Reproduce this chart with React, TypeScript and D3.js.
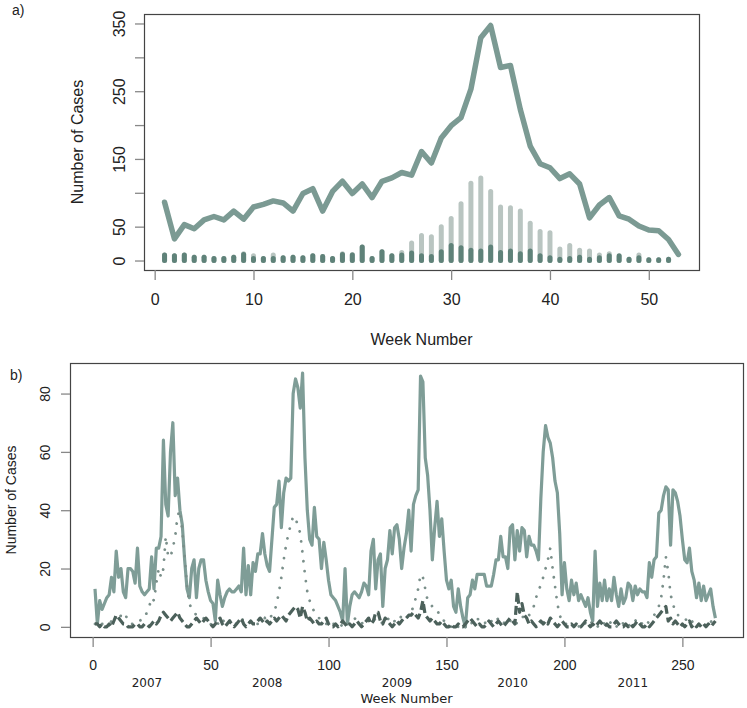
import { axisLeft, axisBottom, scaleLinear, select, line as d3Line, range } from 'd3';
import { useEffect, useRef } from 'react';

// ---- panel a: one season, weeks 1..53 ----
const weeksA = range(1, 54);
const totalA = [
  86, 32, 53, 47, 60, 65, 60, 73, 61, 79, 83, 88, 85, 73, 99, 106, 73, 102, 117, 99,
  113, 93, 117, 122, 130, 126, 161, 144, 181, 199, 211, 253, 329, 347, 285, 288, 223, 169, 143, 137,
  121, 128, 113, 63, 82, 93, 66, 61, 51, 45, 44, 31, 9,
];
const barWeeksA = range(1, 53);
const lightBarsA = [
  8, 7, 8, 5, 5, 3, 3, 5, 10, 7, 3, 8, 4, 5, 4, 7, 6, 3, 10, 9,
  20, 3, 13, 7, 12, 26, 37, 35, 50, 62, 84, 114, 122, 102, 79, 78, 73, 55, 43, 41,
  17, 22, 15, 14, 8, 10, 6, 2, 8, 1, 1, 2,
];
const darkBarsA = [
  8, 7, 8, 5, 5, 3, 3, 5, 9, 3, 3, 3, 4, 5, 4, 7, 6, 3, 9, 8,
  20, 3, 13, 7, 8, 11, 7, 6, 13, 22, 19, 15, 14, 20, 12, 14, 10, 14, 7, 4,
  2, 3, 5, 2, 4, 7, 7, 2, 4, 1, 1, 2,
];
const xTicksA = [0, 10, 20, 30, 40, 50];
const yTicksA = [0, 50, 100, 150, 200, 250, 300, 350];
const yLabelledA = [0, 50, 150, 250, 350];

// ---- panel b: 2007-2011, weeks 1..264 ----
const weeksB = range(1, 265);
const solidB = [
  13, 1, 9, 6, 8, 10, 11, 17, 12, 26, 17, 20, 12, 10, 20, 20, 19, 15, 27, 14,
  12, 11, 12, 13, 24, 13, 27, 27, 31, 64, 42, 38, 60, 70, 45, 51, 40, 35, 23, 13,
  10, 20, 23, 10, 20, 23, 23, 16, 12, 9, 8, 2, 16, 11, 7, 10, 12, 13, 12, 12,
  13, 14, 12, 27, 11, 21, 11, 22, 19, 25, 25, 32, 25, 21, 19, 30, 41, 42, 50, 34,
  46, 51, 50, 51, 80, 85, 82, 75, 87, 58, 40, 30, 28, 41, 31, 30, 20, 29, 23, 16,
  11, 10, 9, 7, 5, 2, 20, 1, 7, 11, 12, 11, 10, 12, 15, 14, 11, 26, 30, 13,
  23, 25, 7, 20, 23, 33, 25, 34, 35, 30, 20, 27, 32, 40, 26, 42, 45, 47, 86, 84,
  58, 52, 40, 23, 34, 43, 31, 37, 26, 16, 13, 16, 7, 5, 13, 7, 3, 0, 10, 11,
  16, 13, 18, 18, 18, 18, 14, 14, 14, 18, 23, 23, 31, 24, 24, 20, 34, 35, 23, 33,
  26, 34, 33, 24, 31, 28, 28, 26, 23, 44, 60, 69, 65, 63, 58, 50, 46, 32, 11, 22,
  13, 9, 16, 11, 15, 9, 11, 9, 7, 10, 5, 2, 26, 7, 15, 9, 16, 9, 13, 9,
  17, 11, 7, 13, 8, 10, 15, 14, 9, 14, 11, 13, 12, 12, 10, 22, 17, 23, 24, 39,
  40, 45, 48, 47, 28, 47, 46, 43, 38, 30, 23, 22, 27, 19, 16, 10, 15, 9, 14, 9,
  11, 13, 7, 3,
];
const dottedB = [
  1, 1, 0, 1, 1, 1, 1, 2, 4, 3, 2, 4, 5, 4, 2, 1, 1, 1, 2, 2,
  3, 3, 5, 7, 10, 9, 15, 20, 17, 20, 31, 24, 24, 27, 31, 38, 40, 33, 24, 14,
  8, 6, 5, 4, 3, 3, 3, 2, 1, 1, 0, 0, 1, 2, 3, 1, 1, 2, 3, 2,
  1, 2, 3, 2, 1, 1, 2, 2, 1, 1, 2, 2, 3, 2, 3, 4, 5, 8, 12, 17,
  23, 28, 32, 35, 38, 37, 35, 32, 25, 18, 12, 9, 7, 5, 4, 3, 2, 2, 1, 2,
  2, 1, 1, 0, 0, 1, 2, 1, 1, 2, 3, 2, 1, 1, 2, 3, 2, 1, 2, 3,
  3, 2, 1, 2, 3, 2, 1, 2, 3, 4, 3, 2, 3, 4, 5, 7, 10, 13, 18, 17,
  13, 9, 8, 7, 7, 6, 4, 3, 2, 1, 1, 0, 1, 0, 0, 1, 0, 0, 1, 2,
  1, 2, 3, 2, 1, 1, 2, 3, 2, 1, 2, 3, 2, 1, 2, 3, 2, 3, 2, 1,
  2, 3, 4, 3, 4, 5, 7, 10, 13, 14, 17, 20, 23, 27, 20, 14, 8, 4, 2, 1,
  1, 2, 1, 0, 1, 0, 1, 2, 1, 0, 1, 2, 1, 0, 1, 2, 1, 0, 1, 2,
  1, 0, 1, 2, 1, 2, 1, 0, 1, 2, 3, 2, 1, 2, 1, 2, 3, 4, 5, 7,
  10, 16, 24, 19, 11, 8, 5, 4, 4, 4, 3, 2, 1, 2, 1, 0, 1, 2, 1, 0,
  1, 2, 1, 1,
];
const dashedB = [
  1, 1, 0, 1, 0, 0, 1, 0, 2, 4, 3, 2, 1, 1, 0, 0, 0, 1, 1, 0,
  0, 1, 1, 0, 1, 2, 1, 2, 4, 5, 4, 3, 2, 3, 4, 5, 3, 2, 1, 0,
  0, 1, 2, 3, 2, 1, 2, 3, 2, 1, 0, 1, 2, 3, 1, 0, 1, 2, 1, 0,
  1, 2, 3, 1, 0, 1, 2, 1, 1, 2, 3, 2, 1, 2, 1, 2, 3, 2, 3, 4,
  3, 2, 4, 5, 6, 7, 6, 3, 7, 5, 2, 3, 2, 1, 2, 1, 1, 2, 3, 1,
  0, 0, 1, 0, 1, 2, 1, 0, 1, 0, 1, 2, 1, 0, 1, 2, 3, 1, 2, 5,
  5, 2, 1, 3, 2, 1, 0, 1, 2, 1, 2, 3, 3, 4, 4, 5, 4, 3, 5, 9,
  4, 3, 2, 3, 2, 1, 1, 2, 1, 0, 0, 1, 0, 0, 1, 0, 0, 1, 2, 3,
  2, 1, 0, 1, 0, 0, 1, 2, 1, 0, 1, 2, 1, 0, 1, 2, 3, 2, 1, 12,
  5, 8, 4, 3, 1, 2, 1, 0, 1, 2, 1, 2, 1, 3, 2, 1, 0, 1, 2, 1,
  0, 0, 1, 0, 1, 0, 0, 1, 2, 1, 0, 1, 0, 1, 2, 1, 0, 1, 0, 0,
  1, 2, 1, 0, 0, 1, 0, 1, 0, 1, 2, 1, 0, 0, 1, 0, 1, 2, 3, 4,
  5, 6, 7, 2, 3, 1, 2, 1, 0, 1, 0, 1, 2, 0, 1, 0, 1, 0, 1, 0,
  1, 0, 1, 2,
];
const xTicksB = [0, 50, 100, 150, 200, 250];
const yTicksB = [0, 20, 40, 60, 80];
const yearLabels = ['2007', '2008', '2009', '2010', '2011'];
const yearCentreWeeks = [23, 74, 129, 178, 229];

const SANS = '"Liberation Sans", Arial, sans-serif';
const VERDANA = '"DejaVu Sans", Verdana, sans-serif';

const App = () => {
  const svgElem = useRef<SVGSVGElement>(null);

  useEffect(() => {
    if (!svgElem.current) {
      return;
    }
    const svg = select(svgElem.current);
    svg.selectAll('*').remove();

    // ================= panel a =================
    const A = { left: 144, right: 699, top: 14, bottom: 270 };
    const xA = scaleLinear().domain([-1.08, 55.08]).range([A.left, A.right]);
    const yA = scaleLinear().domain([-14, 364]).range([A.bottom, A.top]);

    const gA = svg.append('g');

    // light bars first, dark ones on top
    gA.selectAll('.bar-light')
      .data(barWeeksA)
      .enter()
      .append('line')
      .attr('x1', (w) => xA(w))
      .attr('x2', (w) => xA(w))
      .attr('y1', yA(0))
      .attr('y2', (_, i) => yA(lightBarsA[i]))
      .attr('stroke', '#b9c5c1')
      .attr('stroke-width', 5)
      .attr('stroke-linecap', 'round');
    gA.selectAll('.bar-dark')
      .data(barWeeksA)
      .enter()
      .append('line')
      .attr('x1', (w) => xA(w))
      .attr('x2', (w) => xA(w))
      .attr('y1', yA(0))
      .attr('y2', (_, i) => yA(darkBarsA[i]))
      .attr('stroke', '#5f8279')
      .attr('stroke-width', 5)
      .attr('stroke-linecap', 'round');

    const lineA = d3Line<number>()
      .x((w) => xA(w))
      .y((_, i) => yA(totalA[i]));
    gA.append('path')
      .attr('d', lineA(weeksA))
      .attr('fill', 'none')
      .attr('stroke', '#7b9a93')
      .attr('stroke-width', 5.5)
      .attr('stroke-linejoin', 'round')
      .attr('stroke-linecap', 'round');

    gA.append('rect')
      .attr('x', A.left + 0.5)
      .attr('y', A.top + 0.5)
      .attr('width', A.right - A.left)
      .attr('height', A.bottom - A.top)
      .attr('fill', 'none')
      .attr('stroke', '#444')
      .attr('stroke-width', 1.2);

    const xAxisA = gA.append('g')
      .attr('transform', `translate(0, ${A.bottom})`)
      // @ts-expect-error: d3 typings
      .call(axisBottom(xA).tickValues(xTicksA).tickSize(10).tickSizeOuter(0));
    xAxisA.select('.domain').remove();
    xAxisA.selectAll('line').attr('stroke', '#888').attr('stroke-width', 1.3);
    xAxisA.selectAll('text')
      .attr('y', 35)
      .attr('dy', null)
      .style('font', `16px ${SANS}`)
      .attr('fill', '#222');

    const yAxisA = gA.append('g')
      .attr('transform', `translate(${A.left}, 0)`)
      // @ts-expect-error: d3 typings
      .call(axisLeft(yA).tickValues(yTicksA).tickSize(9).tickSizeOuter(0)
        .tickFormat((d: number) => (yLabelledA.includes(d) ? String(d) : '')));
    yAxisA.select('.domain').remove();
    yAxisA.selectAll('line').attr('stroke', '#888').attr('stroke-width', 1.3);
    yAxisA.selectAll('text')
      .attr('x', null)
      .attr('dy', null)
      .attr('text-anchor', 'middle')
      .attr('transform', 'translate(-19, 0) rotate(-90)')
      .style('font', `16px ${SANS}`)
      .attr('fill', '#222');

    gA.append('text')
      .attr('x', (A.left + A.right) / 2)
      .attr('y', 345)
      .attr('text-anchor', 'middle')
      .style('font', `16px ${SANS}`)
      .attr('fill', '#222')
      .text('Week Number');
    gA.append('text')
      .attr('transform', `translate(83, ${(A.top + A.bottom) / 2}) rotate(-90)`)
      .attr('text-anchor', 'middle')
      .style('font', `16px ${SANS}`)
      .attr('fill', '#222')
      .text('Number of Cases');
    gA.append('text')
      .attr('x', 12)
      .attr('y', 15)
      .style('font', `14px ${SANS}`)
      .attr('fill', '#222')
      .text('a)');

    // ================= panel b =================
    const B = { left: 70, right: 743, top: 363, bottom: 637 };
    const xB = scaleLinear().domain([-9.6, 275.7]).range([B.left, B.right]);
    const yB = scaleLinear().domain([-3.48, 90.48]).range([B.bottom, B.top]);

    const gB = svg.append('g');
    const lineB = (vals: number[]) =>
      d3Line<number>()
        .x((w) => xB(w))
        .y((_, i) => yB(vals[i]))(weeksB);

    gB.append('path')
      .attr('d', lineB(solidB))
      .attr('fill', 'none')
      .attr('stroke', '#7f9d97')
      .attr('stroke-width', 3.2)
      .attr('stroke-linejoin', 'round');
    gB.append('path')
      .attr('d', lineB(dottedB))
      .attr('fill', 'none')
      .attr('stroke', '#7a8f8a')
      .attr('stroke-width', 2.8)
      .attr('stroke-linecap', 'round')
      .attr('stroke-dasharray', '0.01 10');
    gB.append('path')
      .attr('d', lineB(dashedB))
      .attr('fill', 'none')
      .attr('stroke', '#4c615b')
      .attr('stroke-width', 3.2)
      .attr('stroke-linejoin', 'round')
      .attr('stroke-dasharray', '9 4');

    gB.append('rect')
      .attr('x', B.left + 0.5)
      .attr('y', B.top + 0.5)
      .attr('width', B.right - B.left)
      .attr('height', B.bottom - B.top)
      .attr('fill', 'none')
      .attr('stroke', '#444')
      .attr('stroke-width', 1.2);

    const xAxisB = gB.append('g')
      .attr('transform', `translate(0, ${B.bottom})`)
      // @ts-expect-error: d3 typings
      .call(axisBottom(xB).tickValues(xTicksB).tickSize(10).tickSizeOuter(0));
    xAxisB.select('.domain').remove();
    xAxisB.selectAll('line').attr('stroke', '#888').attr('stroke-width', 1.3);
    xAxisB.selectAll('text')
      .attr('y', 33)
      .attr('dy', null)
      .style('font', `14px ${SANS}`)
      .attr('fill', '#222');

    const yAxisB = gB.append('g')
      .attr('transform', `translate(${B.left}, 0)`)
      // @ts-expect-error: d3 typings
      .call(axisLeft(yB).tickValues(yTicksB).tickSize(9).tickSizeOuter(0));
    yAxisB.select('.domain').remove();
    yAxisB.selectAll('line').attr('stroke', '#888').attr('stroke-width', 1.3);
    yAxisB.selectAll('text')
      .attr('x', null)
      .attr('dy', null)
      .attr('text-anchor', 'middle')
      .attr('transform', 'translate(-20, 0) rotate(-90)')
      .style('font', `14px ${SANS}`)
      .attr('fill', '#222');

    gB.selectAll('.year')
      .data(yearLabels)
      .enter()
      .append('text')
      .attr('x', (_, i) => xB(yearCentreWeeks[i]))
      .attr('y', 687)
      .attr('text-anchor', 'middle')
      .style('font', `12px ${VERDANA}`)
      .attr('fill', '#222')
      .text((d) => d);

    gB.append('text')
      .attr('x', (B.left + B.right) / 2)
      .attr('y', 703)
      .attr('text-anchor', 'middle')
      .style('font', `13px ${VERDANA}`)
      .attr('fill', '#222')
      .text('Week Number');
    gB.append('text')
      .attr('transform', `translate(15.5, ${(B.top + B.bottom) / 2}) rotate(-90)`)
      .attr('text-anchor', 'middle')
      .style('font', `14px ${SANS}`)
      .attr('fill', '#222')
      .text('Number of Cases');
    gB.append('text')
      .attr('x', 10)
      .attr('y', 380)
      .style('font', `14px ${SANS}`)
      .attr('fill', '#222')
      .text('b)');
  }, []);

  return (
    <svg
      ref={svgElem}
      width={747}
      height={708}
      style={{ position: 'absolute', left: 0, top: 0, background: '#fff' }}
    />
  );
};

export default App;
